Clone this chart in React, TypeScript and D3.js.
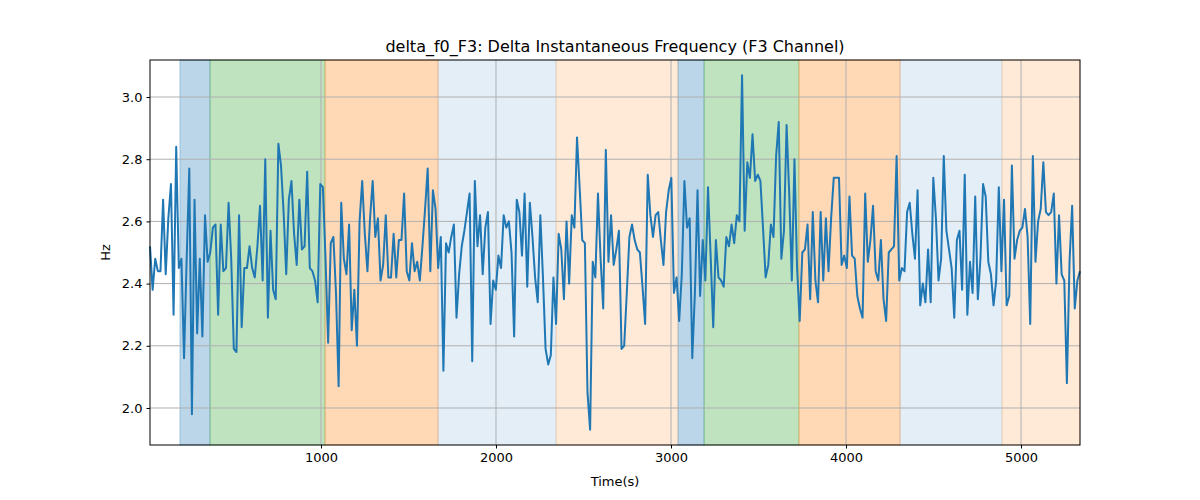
import { useEffect, useRef } from "react"
import * as d3 from "d3"

const tStart = 23
const tEnd = 5337

const values = [
  2.52, 2.38, 2.48, 2.44, 2.44, 2.67, 2.43, 2.61, 2.72, 2.30, 2.84, 2.45, 2.48, 2.16, 2.48, 2.77, 1.98, 2.67, 2.24, 2.48,
  2.23, 2.62, 2.47, 2.50, 2.58, 2.59, 2.30, 2.59, 2.44, 2.45, 2.66, 2.48, 2.19, 2.18, 2.62, 2.26, 2.45, 2.45, 2.52, 2.45,
  2.42, 2.52, 2.65, 2.41, 2.80, 2.29, 2.57, 2.38, 2.35, 2.85, 2.78, 2.63, 2.43, 2.67, 2.73, 2.56, 2.46, 2.67, 2.51, 2.52,
  2.76, 2.45, 2.44, 2.41, 2.34, 2.72, 2.71, 2.48, 2.21, 2.53, 2.55, 2.37, 2.07, 2.66, 2.48, 2.43, 2.59, 2.25, 2.38, 2.20,
  2.60, 2.73, 2.56, 2.44, 2.61, 2.73, 2.55, 2.61, 2.41, 2.46, 2.62, 2.42,
  2.42, 2.56, 2.42, 2.54, 2.54, 2.69, 2.44, 2.41, 2.53, 2.44, 2.47, 2.41, 2.52, 2.64, 2.77, 2.44, 2.70, 2.64, 2.45, 2.55,
  2.12, 2.53, 2.50, 2.55, 2.59, 2.29, 2.43, 2.52, 2.57, 2.63, 2.69, 2.15, 2.73, 2.52, 2.62, 2.43, 2.58, 2.63, 2.27, 2.41,
  2.38, 2.49, 2.45, 2.62, 2.58, 2.60, 2.50, 2.23, 2.67, 2.63, 2.49, 2.69, 2.39, 2.66, 2.55, 2.42, 2.34, 2.62, 2.42, 2.19,
  2.14, 2.17, 2.42, 2.27, 2.56, 2.51, 2.35, 2.60, 2.40, 2.62, 2.58, 2.87, 2.71, 2.54, 2.53, 2.05, 1.93, 2.47, 2.42, 2.69,
  2.48, 2.32, 2.83, 2.47, 2.62, 2.46, 2.51, 2.57,
  2.19, 2.20, 2.37, 2.55, 2.59, 2.54, 2.51, 2.50, 2.39, 2.27, 2.75, 2.62, 2.55, 2.62, 2.63, 2.54, 2.46, 2.63, 2.70, 2.74,
  2.37, 2.42, 2.28, 2.43, 2.73, 2.58, 2.61, 2.16, 2.37, 2.70, 2.36, 2.54, 2.41, 2.71, 2.49, 2.26, 2.54, 2.42, 2.41, 2.39,
  2.55, 2.52, 2.59, 2.53, 2.62, 2.60, 3.07, 2.57, 2.79, 2.74, 2.88, 2.73, 2.75, 2.73, 2.58, 2.42, 2.46, 2.59, 2.55, 2.81,
  2.92, 2.48, 2.57, 2.91, 2.69, 2.41, 2.80, 2.45, 2.28, 2.50, 2.51, 2.59, 2.35, 2.63, 2.41, 2.34, 2.63, 2.41, 2.61, 2.44,
  2.61, 2.74, 2.74, 2.74, 2.46, 2.49, 2.45, 2.68,
  2.49, 2.48, 2.36, 2.32, 2.29, 2.69, 2.47, 2.54, 2.65, 2.44, 2.41, 2.54, 2.35, 2.28, 2.50, 2.51, 2.52, 2.81, 2.41, 2.45,
  2.44, 2.63, 2.66, 2.56, 2.48, 2.70, 2.33, 2.40, 2.34, 2.51, 2.34, 2.74, 2.61, 2.41, 2.48, 2.81, 2.57, 2.51, 2.45, 2.29,
  2.54, 2.57, 2.38, 2.75, 2.30, 2.47, 2.37, 2.68, 2.35, 2.48, 2.72, 2.68, 2.47, 2.43, 2.33, 2.41, 2.71, 2.44, 2.67, 2.33,
  2.36, 2.78, 2.48, 2.54, 2.57, 2.58, 2.64, 2.55, 2.27, 2.81, 2.47, 2.60, 2.64, 2.79, 2.63, 2.62, 2.63, 2.69, 2.40, 2.62,
  2.43, 2.41, 2.08, 2.47, 2.65, 2.32, 2.41, 2.44,
]

// shaded phases
const spanStarts = [194, 366, 1023, 1669, 2343, 3040, 3189, 3731, 4309, 4891]
const spanEnds = [366, 1023, 1669, 2343, 3040, 3189, 3731, 4309, 4891, 5337]
const spanColors = ["#1f77b4", "#2ca02c", "#ff7f0e", "#1f77b4", "#ff7f0e", "#1f77b4", "#2ca02c", "#ff7f0e", "#1f77b4", "#ff7f0e"]
const spanAlphas = [0.3, 0.3, 0.3, 0.12, 0.16, 0.3, 0.3, 0.3, 0.12, 0.16]

const xTicks = [1000, 2000, 3000, 4000, 5000]
const yTicks = [2.0, 2.2, 2.4, 2.6, 2.8, 3.0]

export default function App() {
  const svgRef = useRef<SVGSVGElement>(null)

  useEffect(() => {
    const svg = d3.select(svgRef.current)
    svg.selectAll("*").remove()

    const margin = { top: 60, right: 120, bottom: 55, left: 150 }
    const width = 1200 - margin.left - margin.right
    const height = 500 - margin.top - margin.bottom

    const x = d3.scaleLinear().domain([tStart, tEnd]).range([0, width])
    const y = d3.scaleLinear().domain([1.881, 3.119]).range([height, 0])
    const step = (tEnd - tStart) / (values.length - 1)

    const g = svg.append("g").attr("transform", `translate(${margin.left},${margin.top})`)

    spanStarts.forEach((s, i) => {
      g.append("rect")
        .attr("x", x(s))
        .attr("y", 0)
        .attr("width", x(spanEnds[i]) - x(s))
        .attr("height", height)
        .attr("fill", spanColors[i])
        .attr("fill-opacity", spanAlphas[i])
        .attr("stroke", spanColors[i])
        .attr("stroke-opacity", spanAlphas[i])
    })

    // grid
    g.selectAll(".gx").data(xTicks).enter().append("line")
      .attr("x1", (d) => x(d)).attr("x2", (d) => x(d))
      .attr("y1", 0).attr("y2", height)
      .attr("stroke", "#b0b0b0").attr("stroke-width", 1)
    g.selectAll(".gy").data(yTicks).enter().append("line")
      .attr("y1", (d) => y(d)).attr("y2", (d) => y(d))
      .attr("x1", 0).attr("x2", width)
      .attr("stroke", "#b0b0b0").attr("stroke-width", 1)

    const line = d3.line<number>()
      .x((_, i) => x(tStart + i * step))
      .y((d) => y(d))
    g.append("path")
      .datum(values)
      .attr("d", line)
      .attr("fill", "none")
      .attr("stroke", "#1f77b4")
      .attr("stroke-width", 2)
      .attr("stroke-linejoin", "round")

    g.append("rect")
      .attr("width", width).attr("height", height)
      .attr("fill", "none").attr("stroke", "#000").attr("stroke-width", 1)

    const xAxis = g.append("g")
      .attr("transform", `translate(0,${height})`)
      .call(d3.axisBottom(x).tickValues(xTicks).tickSize(3.5).tickPadding(4).tickFormat(d3.format("d")))
    const yAxis = g.append("g")
      .call(d3.axisLeft(y).tickValues(yTicks).tickSize(3.5).tickPadding(4).tickFormat(d3.format(".1f")))
    for (const a of [xAxis, yAxis]) {
      a.select(".domain").remove()
      a.selectAll("text").attr("font-size", 13).attr("fill", "#000").attr("font-family", "DejaVu Sans")
    }

    svg.append("text")
      .attr("x", margin.left + width / 2).attr("y", 52)
      .attr("text-anchor", "middle").attr("font-size", 16).attr("font-family", "DejaVu Sans")
      .text("delta_f0_F3: Delta Instantaneous Frequency (F3 Channel)")
    svg.append("text")
      .attr("x", margin.left + width / 2).attr("y", 486)
      .attr("text-anchor", "middle").attr("font-size", 13).attr("font-family", "DejaVu Sans")
      .text("Time(s)")
    svg.append("text")
      .attr("transform", `translate(110,${margin.top + height / 2}) rotate(-90)`)
      .attr("text-anchor", "middle").attr("font-size", 13).attr("font-family", "DejaVu Sans")
      .text("Hz")
  }, [])

  return (
    <div style={{ position: "absolute", left: 0, top: 0, background: "#fff" }}>
      <svg ref={svgRef} width={1200} height={500} style={{ display: "block" }} />
    </div>
  )
}
